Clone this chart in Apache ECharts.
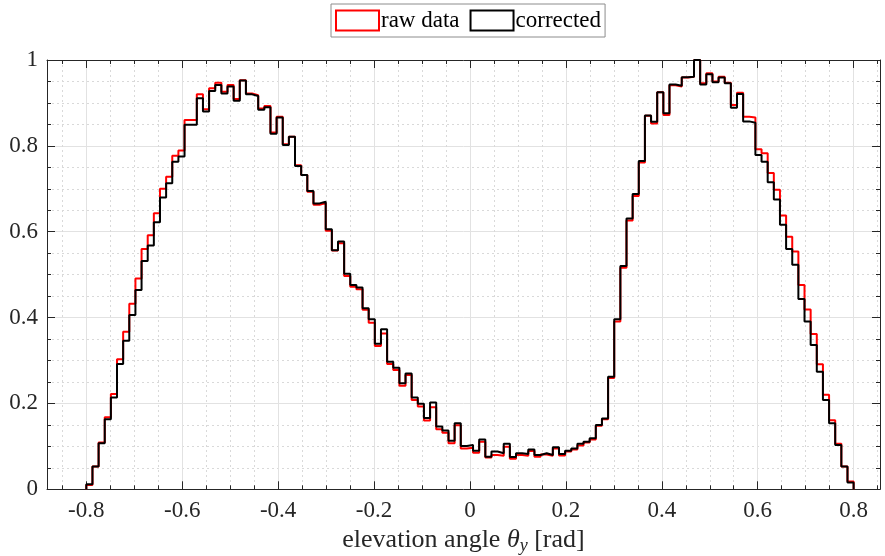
<!DOCTYPE html>
<html><head><meta charset="utf-8">
<script src="https://cdn.jsdelivr.net/npm/echarts@6/dist/echarts.min.js"></script>
<style>html,body{margin:0;padding:0;background:#fff}#c{width:885px;height:556px}</style>
</head><body><div id="c"></div>
<script>
// histogram bins: 125 equal bins between binStart and binEnd
const binStart = -0.8;
const binEnd = 0.8;

const corrected = [
0.012,0.053,0.107,0.163,0.214,0.292,0.346,0.406,0.464,0.532,
0.568,0.622,0.680,0.713,0.763,0.775,0.849,0.849,0.911,0.880,
0.928,0.942,0.922,0.938,0.905,0.952,0.920,0.916,0.884,0.890,
0.828,0.866,0.802,0.821,0.753,0.732,0.695,0.666,0.670,0.606,
0.557,0.577,0.502,0.476,0.470,0.422,0.396,0.339,0.373,0.297,
0.283,0.247,0.270,0.214,0.199,0.166,0.202,0.146,0.137,0.113,
0.154,0.101,0.103,0.090,0.116,0.076,0.088,0.084,0.106,0.075,
0.084,0.082,0.093,0.080,0.084,0.080,0.098,0.082,0.090,0.095,
0.106,0.111,0.119,0.150,0.165,0.262,0.396,0.520,0.631,0.688,
0.765,0.871,0.856,0.925,0.876,0.943,0.940,0.960,0.961,1.000,
0.943,0.967,0.948,0.959,0.946,0.889,0.921,0.857,0.854,0.779,
0.763,0.715,0.675,0.616,0.560,0.523,0.443,0.391,0.336,0.274,
0.208,0.154,0.103,0.053,0.016
];

const rawData = [
0.010,0.053,0.109,0.168,0.222,0.303,0.367,0.432,0.491,0.560,
0.592,0.643,0.700,0.728,0.777,0.789,0.860,0.860,0.920,0.885,
0.934,0.947,0.926,0.942,0.909,0.953,0.922,0.918,0.887,0.893,
0.831,0.868,0.804,0.821,0.755,0.732,0.693,0.663,0.667,0.602,
0.556,0.573,0.497,0.472,0.466,0.418,0.388,0.334,0.363,0.292,
0.278,0.241,0.266,0.208,0.193,0.160,0.191,0.140,0.132,0.107,
0.149,0.095,0.097,0.085,0.111,0.074,0.080,0.078,0.099,0.071,
0.080,0.078,0.089,0.076,0.081,0.078,0.095,0.079,0.088,0.093,
0.102,0.109,0.116,0.148,0.163,0.259,0.391,0.516,0.626,0.683,
0.761,0.870,0.852,0.925,0.872,0.941,0.938,0.959,0.961,1.000,
0.946,0.969,0.950,0.961,0.947,0.895,0.924,0.868,0.866,0.792,
0.783,0.737,0.698,0.638,0.588,0.554,0.476,0.419,0.362,0.291,
0.220,0.161,0.106,0.053,0.018
];

const xTicks = [-0.8,-0.6,-0.4,-0.2,0,0.2,0.4,0.6,0.8];
const yTicks = [0,0.2,0.4,0.6,0.8,1];
const seriesNames = ['raw data','corrected'];

const xMin = -0.882, xMax = 0.855;
const xMinor = [];
for (let i = -17; i <= 17; i++) { const v = +(i*0.05).toFixed(2); if (Math.abs(Math.round(v*100) % 20) !== 0) xMinor.push(v); }

function stairs(vals){
  const n = vals.length, w = (binEnd - binStart)/n;
  const pts = [[binStart, 0]];
  for (let k = 0; k < n; k++) {
    const a = binStart + k*w, b = binStart + (k+1)*w;
    pts.push([a, vals[k]], [b, vals[k]]);
  }
  pts.push([binEnd, 0]);
  return pts;
}

const FONT = 'Liberation Serif';
const TXT = '#262626';
const AX = '#262626';
const majorGrid = '#e2e2e2';
const minorGrid = '#d9d9d9';

function xAxisBase(pos, ticks, len, showLine, showLabel, split){
  return {
    type:'value', position:pos, min:xMin, max:xMax,
    axisLine:{show:showLine, onZero:false, lineStyle:{color:AX, width:1}},
    axisTick:{show:true, inside:true, length:len, customValues:ticks, lineStyle:{color:AX, width:1}},
    axisLabel:{show:showLabel, customValues:ticks, margin:10, fontFamily:FONT, fontSize:23, color:TXT,
      formatter: v => String(Math.round(v*10)/10)},
    splitLine: split ? {show:true, lineStyle:split} : {show:false}
  };
}

const xa0 = xAxisBase('bottom', xTicks, 8, true, true, {color:majorGrid, width:1, type:'solid'});
xa0.name = '{n|elevation angle }{t|θ}{s|y}{n| [rad]}';
xa0.nameLocation = 'middle';
xa0.nameGap = 35;
xa0.nameTextStyle = {
  fontFamily:FONT, fontSize:26, color:TXT,
  rich:{
    n:{fontFamily:FONT, fontSize:26, color:TXT, lineHeight:30, verticalAlign:'middle'},
    t:{fontFamily:FONT, fontSize:26, color:TXT, fontStyle:'italic', lineHeight:30, verticalAlign:'middle'},
    s:{fontFamily:FONT, fontSize:18, color:TXT, fontStyle:'italic', lineHeight:12, verticalAlign:'bottom'}
  }
};

function yAxisBase(pos, showLabel, showSplit){
  return {
    type:'value', position:pos, min:0, max:1, interval:0.2,
    axisLine:{show:true, onZero:false, lineStyle:{color:AX, width:1}},
    axisTick:{show:true, inside:true, length:8, lineStyle:{color:AX, width:1}},
    minorTick:{show:true, splitNumber:4, length:4, lineStyle:{color:AX, width:1}},
    axisLabel:{show:showLabel, margin:9, fontFamily:FONT, fontSize:23, color:TXT,
      formatter: v => String(Math.round(v*10)/10)},
    splitLine:{show:showSplit, lineStyle:{color:majorGrid, width:1, type:'solid'}},
    minorSplitLine:{show:showSplit, lineStyle:{color:minorGrid, width:1, type:[2,3]}}
  };
}

const chart = echarts.init(document.getElementById('c'), null, {renderer:'canvas'});
chart.setOption({
  animation:false,
  backgroundColor:'#ffffff',
  grid:{left:47, right:5, top:60, bottom:66.7, containLabel:false, outerBoundsMode:'none'},
  legend:{
    data:[
      {name:seriesNames[0], icon:'rect', itemStyle:{color:'rgba(0,0,0,0)', borderColor:'#ff0000', borderWidth:2}},
      {name:seriesNames[1], icon:'rect', itemStyle:{color:'rgba(0,0,0,0)', borderColor:'#000000', borderWidth:2}}
    ],
    left:331, top:4, orient:'horizontal',
    itemWidth:43, itemHeight:20, itemGap:10,
    padding:[5,4,5,4],
    borderColor:'#8c8c8c', borderWidth:1, backgroundColor:'#ffffff',
    textStyle:{fontFamily:FONT, fontSize:23, color:'#000', padding:[0,0,0,-3]},
    selectedMode:false
  },
  xAxis:[
    xa0,
    xAxisBase('bottom', xMinor, 4, false, false, {color:minorGrid, width:1, type:[2,3]}),
    xAxisBase('top', xTicks, 8, true, false, null),
    xAxisBase('top', xMinor, 4, false, false, null)
  ],
  yAxis:[ yAxisBase('left', true, true), yAxisBase('right', false, false) ],
  series:[
    {type:'line', name:seriesNames[0], data:stairs(rawData), symbol:'none', showSymbol:false, z:3,
      lineStyle:{color:'#ff0000', width:2}, itemStyle:{color:'#ff0000'}},
    {type:'line', name:seriesNames[1], data:stairs(corrected), symbol:'none', showSymbol:false, z:4,
      lineStyle:{color:'#000000', width:2}, itemStyle:{color:'#000000'}}
  ]
});
</script>
</body></html>
